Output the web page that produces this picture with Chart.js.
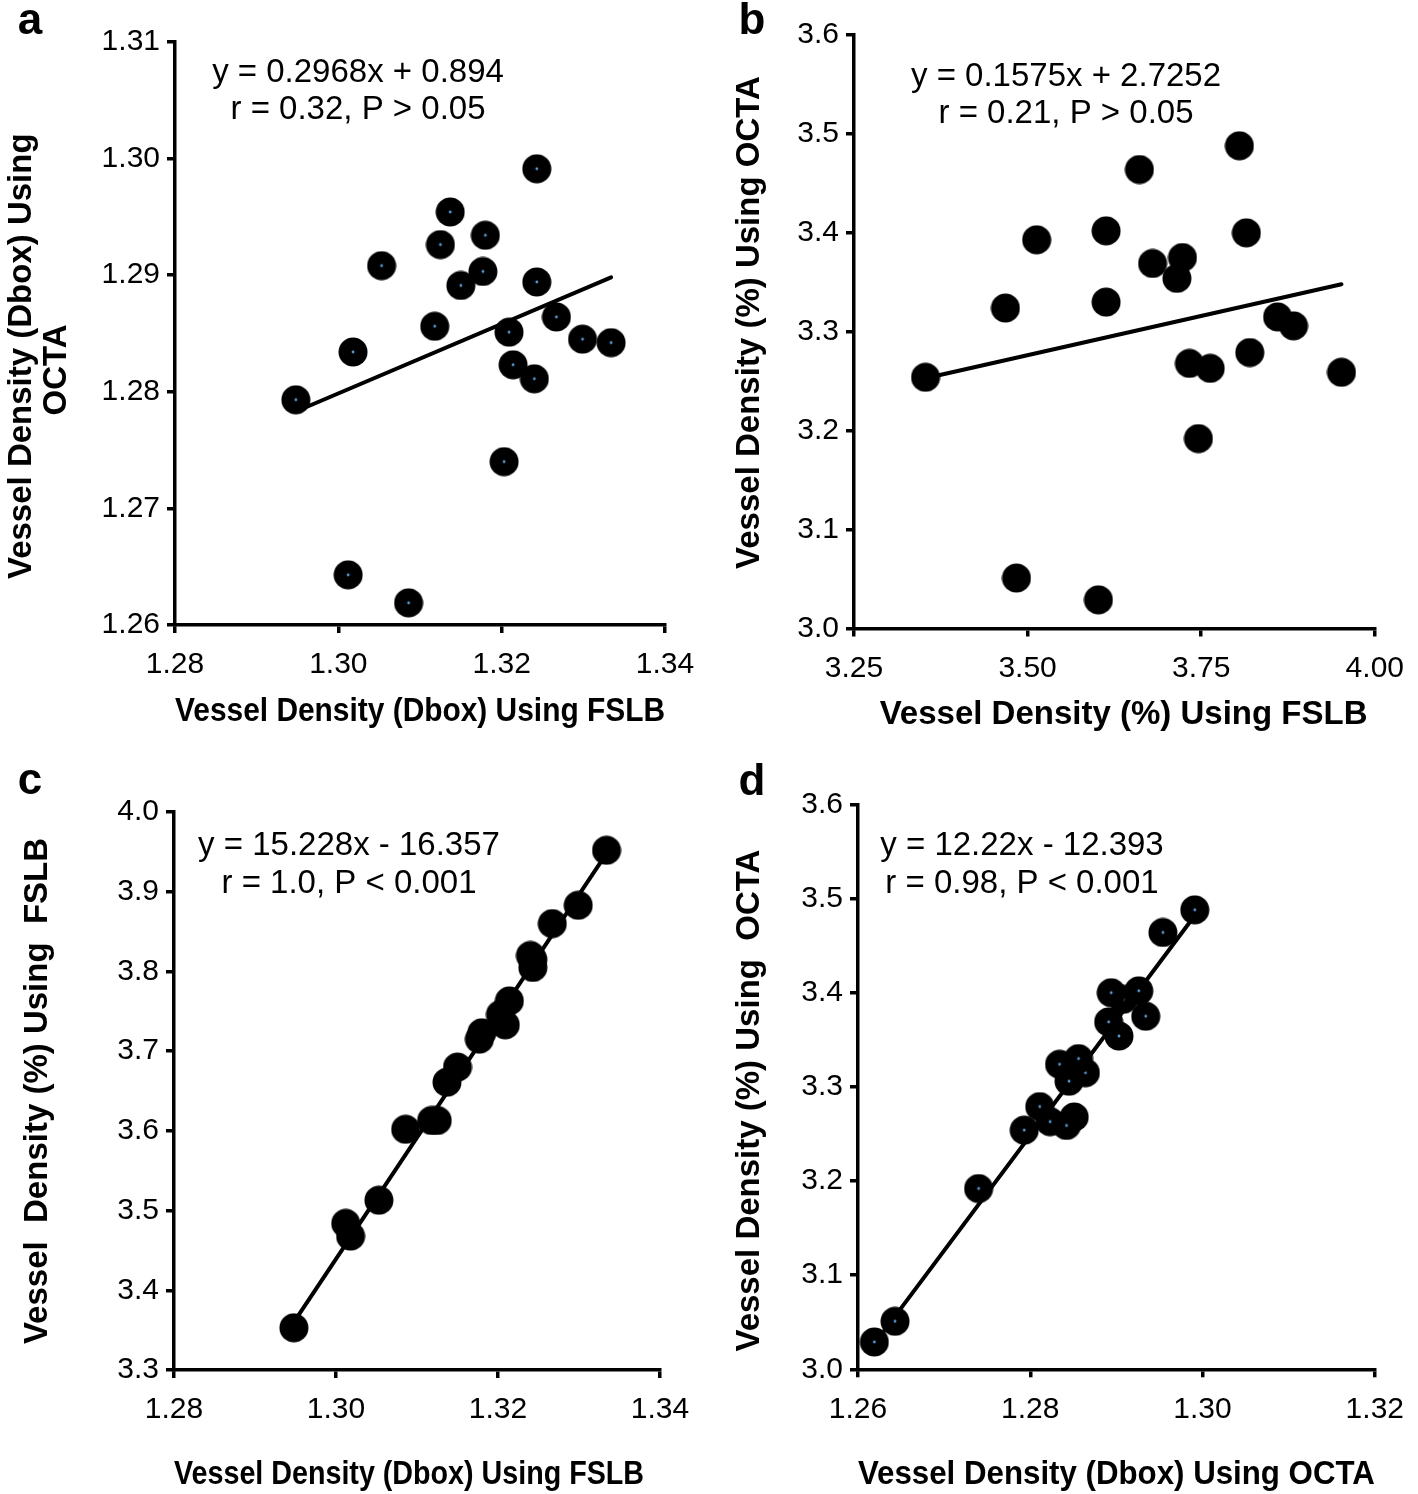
<!DOCTYPE html>
<html><head><meta charset="utf-8">
<script src="https://cdn.jsdelivr.net/npm/chart.js@4/dist/chart.umd.min.js"></script>
<style>
html,body{margin:0;padding:0;background:#fff;}
#wrap{position:relative;width:1418px;height:1494px;background:#fff;}
canvas{position:absolute;}
</style></head><body>
<div id="wrap">
<canvas id="ca" style="left:0;top:0" width="709" height="745"></canvas>
<canvas id="cb" style="left:709px;top:0" width="709" height="745"></canvas>
<canvas id="cc" style="left:0;top:745px" width="709" height="749"></canvas>
<canvas id="cd" style="left:709px;top:745px" width="709" height="749"></canvas>
</div>
<script>
// ---- per-subject values ----
const fslbDbox = [1.3243,1.3137,1.3180,1.3125,1.3053,1.3177,1.3150,1.3243,1.3267,1.3118,1.3209,1.3299,1.3334,1.3018,1.3214,1.3240,1.2948,1.3203,1.3012,1.3086];
const octaDbox = [1.2991,1.2954,1.2934,1.2926,1.2908,1.2903,1.2891,1.2894,1.2864,1.2856,1.2851,1.2845,1.2842,1.2834,1.2823,1.2811,1.2793,1.2740,1.2643,1.2619];
const fslbPct  = [3.805,3.661,3.723,3.613,3.513,3.715,3.680,3.815,3.860,3.613,3.733,3.883,3.952,3.468,3.763,3.820,3.353,3.746,3.484,3.602];
const octaPct  = [3.488,3.464,3.375,3.402,3.393,3.354,3.369,3.400,3.315,3.330,3.268,3.306,3.259,3.324,3.263,3.279,3.254,3.192,3.051,3.029];

// ---- trend line end points ----
const aTrendX = [1.2948, 1.3334], aTrendY = [1.2783, 1.2898];
const bTrendX = [3.353, 3.952],   bTrendY = [3.253, 3.348];
const cTrendX = [1.2948, 1.3334], cTrendY = [3.360, 3.948];
const dTrendX = [1.2619, 1.2991], dTrendY = [3.027, 3.482];

// ---- tick values / labels ----
const dboxTicksA = [1.28,1.30,1.32,1.34], dboxLabelsA = ['1.28','1.30','1.32','1.34'];
const octaDboxTicksA = [1.26,1.27,1.28,1.29,1.30,1.31], octaDboxLabelsA = ['1.26','1.27','1.28','1.29','1.30','1.31'];
const pctTicksB = [3.25,3.50,3.75,4.00], pctLabelsB = ['3.25','3.50','3.75','4.00'];
const octaPctTicks = [3.0,3.1,3.2,3.3,3.4,3.5,3.6], octaPctLabels = ['3.0','3.1','3.2','3.3','3.4','3.5','3.6'];
const fslbPctTicksC = [3.3,3.4,3.5,3.6,3.7,3.8,3.9,4.0], fslbPctLabelsC = ['3.3','3.4','3.5','3.6','3.7','3.8','3.9','4.0'];
const octaDboxTicksD = [1.26,1.28,1.30,1.32], octaDboxLabelsD = ['1.26','1.28','1.30','1.32'];

const FAM = "'Liberation Sans', Arial, Helvetica, sans-serif";

// marker with the little blue centre seen in panels a and d
function dotMarker(withDot){
  const c = document.createElement('canvas'); c.width = 30; c.height = 30;
  const g = c.getContext('2d');
  g.fillStyle = '#000'; g.beginPath(); g.arc(15,15,14.5,0,Math.PI*2); g.fill();
  if (withDot){ g.fillStyle = '#5b9bd5'; g.beginPath(); g.arc(15,15,1.4,0,Math.PI*2); g.fill(); }
  return c;
}

const panelText = {
  id: 'panelText',
  afterDraw(chart, args, o){
    const ctx = chart.ctx; ctx.save();
    ctx.fillStyle = '#000'; ctx.textBaseline = 'middle';
    ctx.font = 'bold 44px ' + FAM; ctx.textAlign = 'center';
    ctx.fillText(o.letter, o.lx, o.ly);
    ctx.font = '33px ' + FAM;
    o.lines.forEach((t,i)=>ctx.fillText(t, o.cx, o.cy + i*o.dy));
    ctx.restore();
  }
};

function axis(vals, labels, min, max, title, fit, isX, titlePad, tickPad){
  return {
    type: 'linear', min: min, max: max,
    afterBuildTicks: s => { s.ticks = vals.map(v => ({value: v})); },
    afterFit: s => { if (isX) s.height = fit; else s.width = fit; },
    ticks: { callback: (v, i) => labels[i], color: '#000', font: {family: FAM, size: 30}, padding: tickPad, maxRotation: 0, autoSkip: false },
    grid: { drawOnChartArea: false, drawTicks: true, tickLength: 8, color: '#000', lineWidth: 3.5 },
    border: { display: true, color: '#000', width: 3.5 },
    title: { display: true, text: title, color: '#000', font: {family: FAM, size: 33, weight: 'bold', lineHeight: 1.06}, padding: titlePad }
  };
}

function makeChart(id, p){
  const pts = p.x.map((v,i)=>({x: v, y: p.y[i]}));
  const trend = p.tx.map((v,i)=>({x: v, y: p.ty[i]}));
  new Chart(document.getElementById(id), {
    type: 'scatter',
    data: { datasets: [
      { data: pts, pointStyle: dotMarker(p.dot), pointRadius: 14.5, backgroundColor: '#000', borderWidth: 0, order: 1, clip: false },
      { data: trend, showLine: true, pointRadius: 0, borderColor: '#000', borderWidth: 4, order: 2, clip: false, borderCapStyle: 'round' }
    ]},
    options: {
      responsive: false, animation: false, devicePixelRatio: 1,
      layout: { padding: p.pad },
      plugins: { legend: {display: false}, tooltip: {enabled: false}, panelText: p.text },
      scales: { x: p.xs, y: p.ys }
    },
    plugins: [panelText]
  });
}

makeChart('ca', {
  x: fslbDbox, y: octaDbox, tx: aTrendX, ty: aTrendY, dot: true,
  pad: {left: 0, top: 41.6, right: 44, bottom: 0},
  xs: axis(dboxTicksA, dboxLabelsA, 1.28, 1.34, 'Vessel Density (Dbox) Using FSLB', 120, true, {top: 0, bottom: 15.5}, 14),
  ys: axis(octaDboxTicksA, octaDboxLabelsA, 1.26, 1.31, ['Vessel Density (Dbox) Using     ', 'OCTA        '], 175, false, {top: 4.5, bottom: 0}, 7),
  text: {letter: 'a', lx: 30, ly: 22, lines: ['y = 0.2968x + 0.894', 'r = 0.32, P > 0.05'], cx: 358, cy: 73, dy: 37}
});

makeChart('cb', {
  x: fslbPct, y: octaPct, tx: bTrendX, ty: bTrendY, dot: false,
  pad: {left: 0, top: 35, right: 33, bottom: 0},
  xs: axis(pctTicksB, pctLabelsB, 3.25, 4.00, '  Vessel Density (%) Using FSLB', 116.5, true, {top: 0, bottom: 12.5}, 14),
  ys: axis(octaPctTicks, octaPctLabels, 3.0, 3.6, '  Vessel Density (%) Using OCTA', 145, false, {top: 23.5, bottom: 0}, 7),
  text: {letter: 'b', lx: 43, ly: 22, lines: ['y = 0.1575x + 2.7252', 'r = 0.21, P > 0.05'], cx: 357, cy: 77, dy: 37}
});

makeChart('cc', {
  x: fslbDbox, y: fslbPct, tx: cTrendX, ty: cTrendY, dot: false,
  pad: {left: 0, top: 67, right: 49, bottom: 0},
  xs: axis(dboxTicksA, dboxLabelsA, 1.28, 1.34, 'Vessel Density (Dbox) Using FSLB  ', 124, true, {top: 0, bottom: 1.5}, 14),
  ys: axis(fslbPctTicksC, fslbPctLabelsC, 3.3, 4.0, 'Vessel  Density (%) Using  FSLB', 174, false, {top: 20.5, bottom: 0}, 7),
  text: {letter: 'c', lx: 30, ly: 37, lines: ['y = 15.228x - 16.357', 'r = 1.0, P < 0.001'], cx: 349, cy: 101, dy: 38}
});

makeChart('cd', {
  x: octaDbox, y: octaPct, tx: dTrendX, ty: dTrendY, dot: true,
  pad: {left: 0, top: 59.4, right: 34, bottom: 0},
  xs: axis(octaDboxTicksD, octaDboxLabelsD, 1.26, 1.32, 'Vessel Density (Dbox) Using OCTA', 124.7, true, {top: 0, bottom: 1.5}, 14),
  ys: axis(octaPctTicks, octaPctLabels, 3.0, 3.6, 'Vessel Density (%) Using  OCTA   ', 149, false, {top: 23.5, bottom: 0}, 7),
  text: {letter: 'd', lx: 43, ly: 38, lines: ['y = 12.22x - 12.393', 'r = 0.98, P < 0.001'], cx: 313, cy: 101, dy: 38}
});
</script>
</body></html>
